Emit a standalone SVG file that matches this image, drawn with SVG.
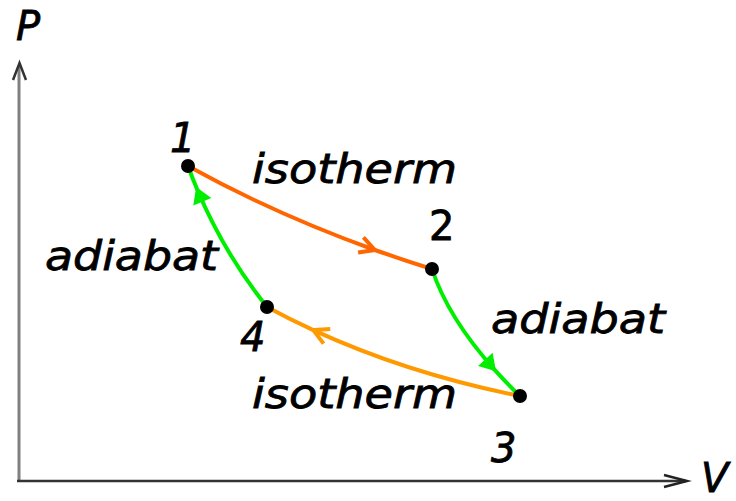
<svg xmlns="http://www.w3.org/2000/svg" width="736" height="501" viewBox="0 0 736 501">
<defs>
<style>
.lbl{font-family:"DejaVu Sans","Verdana",sans-serif;font-size:40px;fill:#000;stroke:#000;stroke-width:0.8px}
.it{font-style:italic}
.curve{fill:none;stroke-width:4;stroke-linecap:round}
.dot{fill:#000}
</style>
<marker id="aRed" markerUnits="userSpaceOnUse" orient="auto" markerWidth="30" markerHeight="30" refX="0" refY="0" viewBox="-15 -15 30 30" overflow="visible">
<path d="M-15,-8 L0,0 L-15,8" fill="none" stroke="#FF6600" stroke-width="4" stroke-linejoin="miter"/>
</marker>
<marker id="aOrange" markerUnits="userSpaceOnUse" orient="auto" markerWidth="30" markerHeight="30" refX="0" refY="0" viewBox="-15 -15 30 30" overflow="visible">
<path d="M-15,-8 L0,0 L-15,8" fill="none" stroke="#FF9900" stroke-width="4" stroke-linejoin="miter"/>
</marker>
<marker id="aGreen" markerUnits="userSpaceOnUse" orient="auto" markerWidth="30" markerHeight="30" refX="0" refY="0" viewBox="-15 -15 30 30" overflow="visible">
<path d="M-13,-8 L0,0 L-13,8 Z" fill="#00EE00" stroke="#00EE00" stroke-width="2" stroke-linejoin="miter"/>
</marker>
</defs>
<rect width="736" height="501" fill="#fff"/>
<g id="axes">
<line x1="19" y1="481" x2="19" y2="66" stroke="#808080" stroke-width="3"/>
<path d="M13,80 L19.5,63 L26,80" fill="none" stroke="#333" stroke-width="2.5"/>
<line x1="17" y1="481" x2="686" y2="481" stroke="#333" stroke-width="2.5"/>
<path d="M664,475 L687,481 L664,487" fill="none" stroke="#222" stroke-width="2.5"/>
<text class="lbl it" x="16" y="40" font-size="38">P</text>
<text class="lbl it" x="701" y="492" font-size="36">V</text>
</g>
<g id="connectors">
<path id="e12" class="curve" stroke="#FF6600" d="M188,166 Q275.4,214.4 374.9,250 Q403,260 432,269" marker-mid="url(#aRed)"/>
<path id="e23" class="curve" stroke="#00EE00" d="M432,269 Q448,317.8 494.7,369.8 Q506.4,382.8 520,396" marker-mid="url(#aGreen)"/>
<path id="e34" class="curve" stroke="#FF9900" d="M520,396 Q408,373.6 313.3,330.1 Q289.6,319.2 267,307" marker-mid="url(#aOrange)"/>
<path id="e41" class="curve" stroke="#00EE00" d="M267,307 Q223.65,252.6 196.9,188.8 Q192.2,177.55 188,166" marker-mid="url(#aGreen)"/>
</g>
<g id="n1"><circle class="dot" cx="188" cy="166" r="7"/><text class="lbl it" x="170" y="152">1</text></g>
<g id="n2"><circle class="dot" cx="432" cy="269" r="7"/><text class="lbl" x="429" y="240">2</text></g>
<g id="n3"><circle class="dot" cx="520" cy="396" r="7"/><text class="lbl it" x="491" y="462">3</text></g>
<g id="n4"><circle class="dot" cx="267" cy="307" r="7"/><text class="lbl it" x="240" y="351">4</text></g>
<g id="labels">
<text class="lbl it" x="252" y="183" textLength="205" lengthAdjust="spacingAndGlyphs">isotherm</text>
<text class="lbl it" x="45" y="270" textLength="173" lengthAdjust="spacingAndGlyphs">adiabat</text>
<text class="lbl it" x="491" y="333" textLength="174" lengthAdjust="spacingAndGlyphs">adiabat</text>
<text class="lbl it" x="252" y="408" textLength="205" lengthAdjust="spacingAndGlyphs">isotherm</text>
</g>
</svg>
